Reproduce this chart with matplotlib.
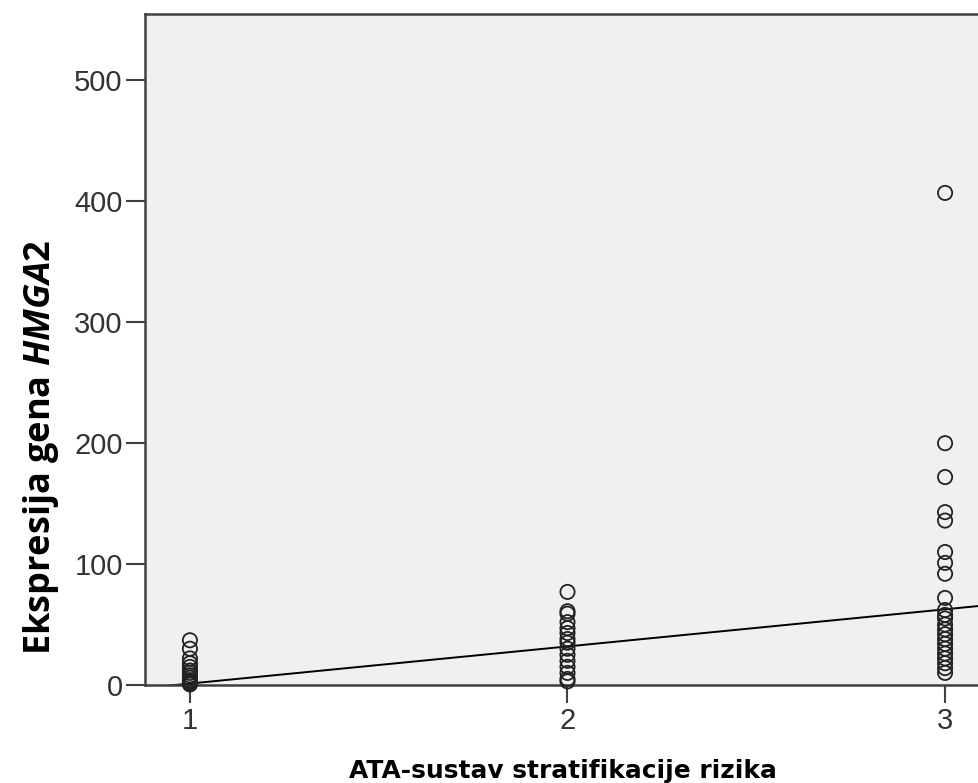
import matplotlib
matplotlib.use("Agg")
import matplotlib.pyplot as plt
import numpy as np

# podaci procijenjeni sa slike
skupina_1 = [37, 30, 22, 18, 15, 12, 10, 8, 6, 4, 3, 2, 1, 0.5]
skupina_2 = [77, 61, 59, 52, 47, 43, 38, 35, 30, 25, 20, 15, 10, 5, 3]
skupina_3 = [407, 200, 172, 143, 136, 110, 101, 92, 72, 62, 58, 55, 50, 46, 42,
             38, 34, 30, 26, 22, 18, 14, 10]
pravac_nagib = 30.7
pravac_odsjecak = -29.5
y_oznake = [0, 100, 200, 300, 400, 500]
x_oznake = [1, 2, 3]

plt.rcParams['font.family'] = ['Liberation Sans', 'DejaVu Sans']
plt.rcParams['mathtext.fontset'] = 'custom'
plt.rcParams['mathtext.it'] = 'Open Sans:italic:bold'
plt.rcParams['mathtext.rm'] = 'Open Sans:bold'

W, H = 979, 783
fig = plt.figure(figsize=(W / 100, H / 100), dpi=100)
# desni rub osi izlazi izvan slike kao na originalu
ax = fig.add_axes([145 / W, 1 - 685 / H, (990 - 145) / W, (685 - 14) / H])
ax.set_facecolor('#f0f0f0')

for x_val, vrijednosti in zip(x_oznake, [skupina_1, skupina_2, skupina_3]):
    ax.scatter([x_val] * len(vrijednosti), vrijednosti, s=105, facecolors='none',
               edgecolors='#222222', linewidths=1.3, clip_on=False, zorder=3)

xs = np.array([0.88, 3.2])
ax.plot(xs, pravac_odsjecak + pravac_nagib * xs, color='black', lw=1.4, zorder=2)

ax.set_xlim(0.881, 3.119)
ax.set_ylim(0, 555)
ax.set_xticks(x_oznake)
ax.set_yticks(y_oznake)
ax.tick_params(axis='both', direction='out', width=1.5, color='#404040',
               labelsize=21, labelcolor='#333333')
ax.tick_params(axis='y', length=14, pad=2)
ax.tick_params(axis='x', length=13, pad=3)
for sp in ax.spines.values():
    sp.set_color('#404040')
    sp.set_linewidth(1.8)

# natpisi osi postavljeni rucno (kao u SPSS-u)
fig.text(563 / W, 1 - 778 / H, 'ATA-sustav stratifikacije rizika', fontsize=17.9,
         fontweight='bold', family='DejaVu Sans', ha='center', va='baseline')
fig.text(50 / W, 1 - 447 / H, r'Ekspresija gena $\mathit{HMGA2}$', fontsize=26,
         fontweight='bold', family='Open Sans', rotation=90, rotation_mode='anchor',
         ha='center', va='baseline')

fig.savefig('out.png', dpi=100)
